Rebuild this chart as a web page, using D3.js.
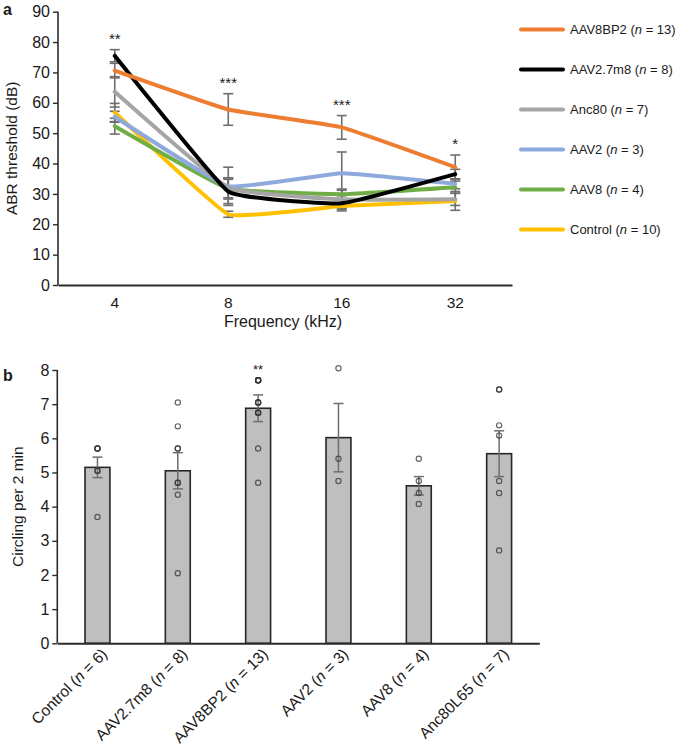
<!DOCTYPE html>
<html><head><meta charset="utf-8">
<script src="https://cdn.jsdelivr.net/npm/d3@7"></script>
<style>
body{margin:0;background:#fff}
text{font-family:"Liberation Sans",Arial,Helvetica,sans-serif;fill:#1a1a1a}
</style>
</head><body><svg id="c" width="685" height="749"></svg>
<script>
// ---------- Panel a data ----------
const frequencies = ["4", "8", "16", "32"];
const seriesNames = ["AAV8BP2", "AAV2.7m8", "Anc80", "AAV2", "AAV8", "Control"];
const seriesN = [13, 8, 7, 3, 4, 10];
const abrAAV8BP2 = [70.6, 57.8, 51.9, 38.8];
const abrAAV27m8 = [75.5, 30.8, 26.9, 36.5];
const abrAnc80   = [63.6, 32.0, 28.2, 28.2];
const abrAAV2    = [55.4, 32.5, 36.8, 33.3];
const abrAAV8    = [52.3, 31.8, 29.9, 32.2];
const abrControl = [56.8, 23.3, 26.0, 27.7];
const errAAV8BP2 = [2.4, 5.2, 3.9, 4.0];
const errAAV27m8 = [2.0, 4.0, 2.5, 1.6];
const errAnc80   = [5.0, 3.3, 3.0, 2.0];
const errAAV2    = [1.8, 6.3, 7.0, 1.6];
const errAAV8    = [2.6, 3.5, 1.7, 2.0];
const errControl = [3.0, 1.0, 1.0, 3.1];
const abrSignif  = ["**", "***", "***", "*"];
const abrTicks   = [0, 10, 20, 30, 40, 50, 60, 70, 80, 90];

// ---------- Panel b data ----------
const groups  = ["Control", "AAV2.7m8", "AAV8BP2", "AAV2", "AAV8", "Anc80L65"];
const groupN  = [6, 8, 13, 3, 4, 7];
const circlingMean = [5.15, 5.05, 6.88, 6.02, 4.61, 5.55];
const circlingErr  = [0.30, 0.53, 0.39, 1.00, 0.27, 0.67];
const ptsControl  = [5.7, 5.7, 5.7, 5.05, 5.05, 3.7];
const ptsAAV27m8  = [7.05, 6.35, 5.7, 5.7, 4.7, 4.7, 4.35, 2.05];
const ptsAAV8BP2  = [7.7, 7.7, 7.7, 7.7, 7.7, 7.05, 7.05, 7.05, 6.75, 6.75, 6.75, 5.7, 4.7];
const ptsAAV2     = [8.05, 5.4, 4.75];
const ptsAAV8     = [5.4, 4.75, 4.4, 4.08];
const ptsAnc80L65 = [7.43, 7.43, 6.38, 6.08, 4.75, 4.4, 2.72];
const circlingSignif = ["", "", "**", "", "", ""];
const circlingTicks = [0, 1, 2, 3, 4, 5, 6, 7, 8];

// ---------- styles ----------
const lineColors = ["#ED7D31", "#000000", "#A5A5A5", "#8EA9DB", "#70AD47", "#FFC000"];
const errColor = "#6e6e6e";
const axisColor = "#2b2b2b";
const FONT = '"Liberation Sans",Arial,sans-serif';

const svg = d3.select("#c");
const abrValues = [abrAAV8BP2, abrAAV27m8, abrAnc80, abrAAV2, abrAAV8, abrControl];
const abrErrs = [errAAV8BP2, errAAV27m8, errAnc80, errAAV2, errAAV8, errControl];
const series = seriesNames.map((name, i) => ({
  name, n: seriesN[i], color: lineColors[i],
  values: frequencies.map((f, j) => ({f, v: abrValues[i][j], e: abrErrs[i][j]}))
}));

// ================= Panel a =================
const xA = d3.scaleBand().domain(frequencies).range([58, 512]);
const yA = d3.scaleLinear().domain([0, 90]).range([285, 11.7]);
const cx = f => xA(f) + xA.bandwidth() / 2;

const gA = svg.append("g");
const yAxisA = d3.axisLeft(yA).tickValues(abrTicks).tickSize(5).tickPadding(3);
const gyA = gA.append("g").attr("transform", "translate(58,0)").call(yAxisA);
gyA.select(".domain").attr("stroke", axisColor).attr("stroke-width", 1.6).attr("d", `M0,${yA(90)}V${yA(0)}`);
gyA.selectAll(".tick line").attr("stroke", axisColor).attr("stroke-width", 1.4);
gyA.selectAll(".tick text").attr("font-size", 16).attr("fill", "#1a1a1a").style("font-family", FONT);

const xAxisA = d3.axisBottom(xA).tickSize(0).tickPadding(12);
const gxA = gA.append("g").attr("transform", `translate(0,${yA(0)})`).call(xAxisA);
gxA.select(".domain").attr("stroke", axisColor).attr("stroke-width", 2);
gxA.selectAll(".tick text").attr("font-size", 15.5).attr("fill", "#1a1a1a").style("font-family", FONT);

gA.append("text").attr("transform", `translate(17,${(yA(0) + yA(90)) / 2}) rotate(-90)`)
  .attr("text-anchor", "middle").attr("font-size", 15.5).text("ABR threshold (dB)");
gA.append("text").attr("x", 283).attr("y", 327).attr("text-anchor", "middle")
  .attr("font-size", 16).text("Frequency (kHz)");

// error bars
const errG = gA.append("g");
series.forEach(s => {
  s.values.forEach(d => {
    const x = cx(d.f);
    errG.append("line").attr("x1", x).attr("x2", x).attr("y1", yA(d.v - d.e)).attr("y2", yA(d.v + d.e))
      .attr("stroke", errColor).attr("stroke-width", 1.6);
    [d.v - d.e, d.v + d.e].forEach(v => {
      errG.append("line").attr("x1", x - 5).attr("x2", x + 5).attr("y1", yA(v)).attr("y2", yA(v))
        .attr("stroke", errColor).attr("stroke-width", 1.6);
    });
  });
});

// lines (lightly smoothed)
const line = d3.line().x(d => cx(d.f)).y(d => yA(d.v)).curve(d3.curveCardinal.tension(0.7));
[5, 4, 3, 2, 1, 0].forEach(i => {
  const s = series[i];
  gA.append("path").datum(s.values).attr("d", line).attr("fill", "none")
    .attr("stroke", s.color).attr("stroke-width", 4).attr("stroke-linejoin", "round").attr("stroke-linecap", "round");
});

// significance stars
frequencies.forEach((f, j) => {
  const top = d3.max(series, s => s.values[j].v + s.values[j].e);
  gA.append("text").attr("x", cx(f)).attr("y", yA(top) - 6).attr("text-anchor", "middle")
    .attr("font-size", 15).text(abrSignif[j]);
});

// legend
const leg = gA.append("g");
series.forEach((s, i) => {
  const y = 29.5 + i * 40;
  leg.append("line").attr("x1", 521).attr("x2", 563).attr("y1", y).attr("y2", y)
    .attr("stroke", s.color).attr("stroke-width", 4).attr("stroke-linecap", "round");
  const t = leg.append("text").attr("x", 570).attr("y", y + 4.5).attr("font-size", 13);
  t.append("tspan").text(s.name + " (");
  t.append("tspan").attr("font-style", "italic").text("n");
  t.append("tspan").text(" = " + s.n + ")");
});

svg.append("text").attr("x", 3).attr("y", 15).attr("font-size", 16).attr("font-weight", "bold").text("a");
svg.append("text").attr("x", 3).attr("y", 381).attr("font-size", 16).attr("font-weight", "bold").text("b");

// ================= Panel b =================
const pts = [ptsControl, ptsAAV27m8, ptsAAV8BP2, ptsAAV2, ptsAAV8, ptsAnc80L65];
const xB = d3.scaleBand().domain(groups).range([57.3, 539.3]).paddingInner(0.69).paddingOuter(0.345);
const yB = d3.scaleLinear().domain([0, 8]).range([643.3, 370]);
const gB = svg.append("g");

const yAxisB = d3.axisLeft(yB).tickValues(circlingTicks).tickSize(5).tickPadding(3);
const gyB = gB.append("g").attr("transform", "translate(57.3,0)").call(yAxisB);
gyB.select(".domain").attr("stroke", axisColor).attr("stroke-width", 1.6).attr("d", `M0,${yB(8)}V${yB(0)}`);
gyB.selectAll(".tick line").attr("stroke", axisColor).attr("stroke-width", 1.4);
gyB.selectAll(".tick text").attr("font-size", 16).attr("fill", "#1a1a1a").style("font-family", FONT);

gB.append("text").attr("transform", `translate(23,${(yB(0) + yB(8)) / 2}) rotate(-90)`)
  .attr("text-anchor", "middle").attr("font-size", 15.5).text("Circling per 2 min");

groups.forEach((g, i) => {
  gB.append("rect").attr("x", xB(g)).attr("y", yB(circlingMean[i])).attr("width", xB.bandwidth())
    .attr("height", yB(0) - yB(circlingMean[i])).attr("fill", "#BFBFBF").attr("stroke", "#262626").attr("stroke-width", 1.6);
});

const xAxisB = d3.axisBottom(xB).tickSize(0).tickFormat("");
const gxB = gB.append("g").attr("transform", `translate(0,${yB(0)})`).call(xAxisB);
gxB.select(".domain").attr("stroke", axisColor).attr("stroke-width", 2);

groups.forEach((g, i) => {
  const x = xB(g) + xB.bandwidth() / 2;
  const t = gB.append("text").attr("transform", `translate(${x + 3},${yB(0) + 4}) rotate(-45)`)
    .attr("text-anchor", "end").attr("dy", "0.7em").attr("font-size", 15.5);
  t.append("tspan").text(g + " (");
  t.append("tspan").attr("font-style", "italic").text("n");
  t.append("tspan").text(" = " + groupN[i] + ")");
});

groups.forEach((g, i) => {
  const x = xB(g) + xB.bandwidth() / 2;
  const lo = circlingMean[i] - circlingErr[i], hi = circlingMean[i] + circlingErr[i];
  gB.append("line").attr("x1", x).attr("x2", x).attr("y1", yB(lo)).attr("y2", yB(hi)).attr("stroke", errColor).attr("stroke-width", 1.5);
  [lo, hi].forEach(v => gB.append("line").attr("x1", x - 5).attr("x2", x + 5).attr("y1", yB(v)).attr("y2", yB(v))
    .attr("stroke", errColor).attr("stroke-width", 1.5));
});

groups.forEach((g, i) => {
  const x = xB(g) + xB.bandwidth() / 2;
  gB.selectAll(null).data(pts[i]).enter().append("circle")
    .attr("cx", x).attr("cy", d => yB(d)).attr("r", 2.6)
    .attr("fill", "none").attr("stroke", "#333").attr("stroke-width", 1.2).attr("stroke-opacity", 0.75);
  if (circlingSignif[i]) {
    const top = Math.max(d3.max(pts[i]), circlingMean[i] + circlingErr[i]);
    gB.append("text").attr("x", x).attr("y", yB(top) - 6).attr("text-anchor", "middle")
      .attr("font-size", 13).text(circlingSignif[i]);
  }
});
</script>
</body></html>
